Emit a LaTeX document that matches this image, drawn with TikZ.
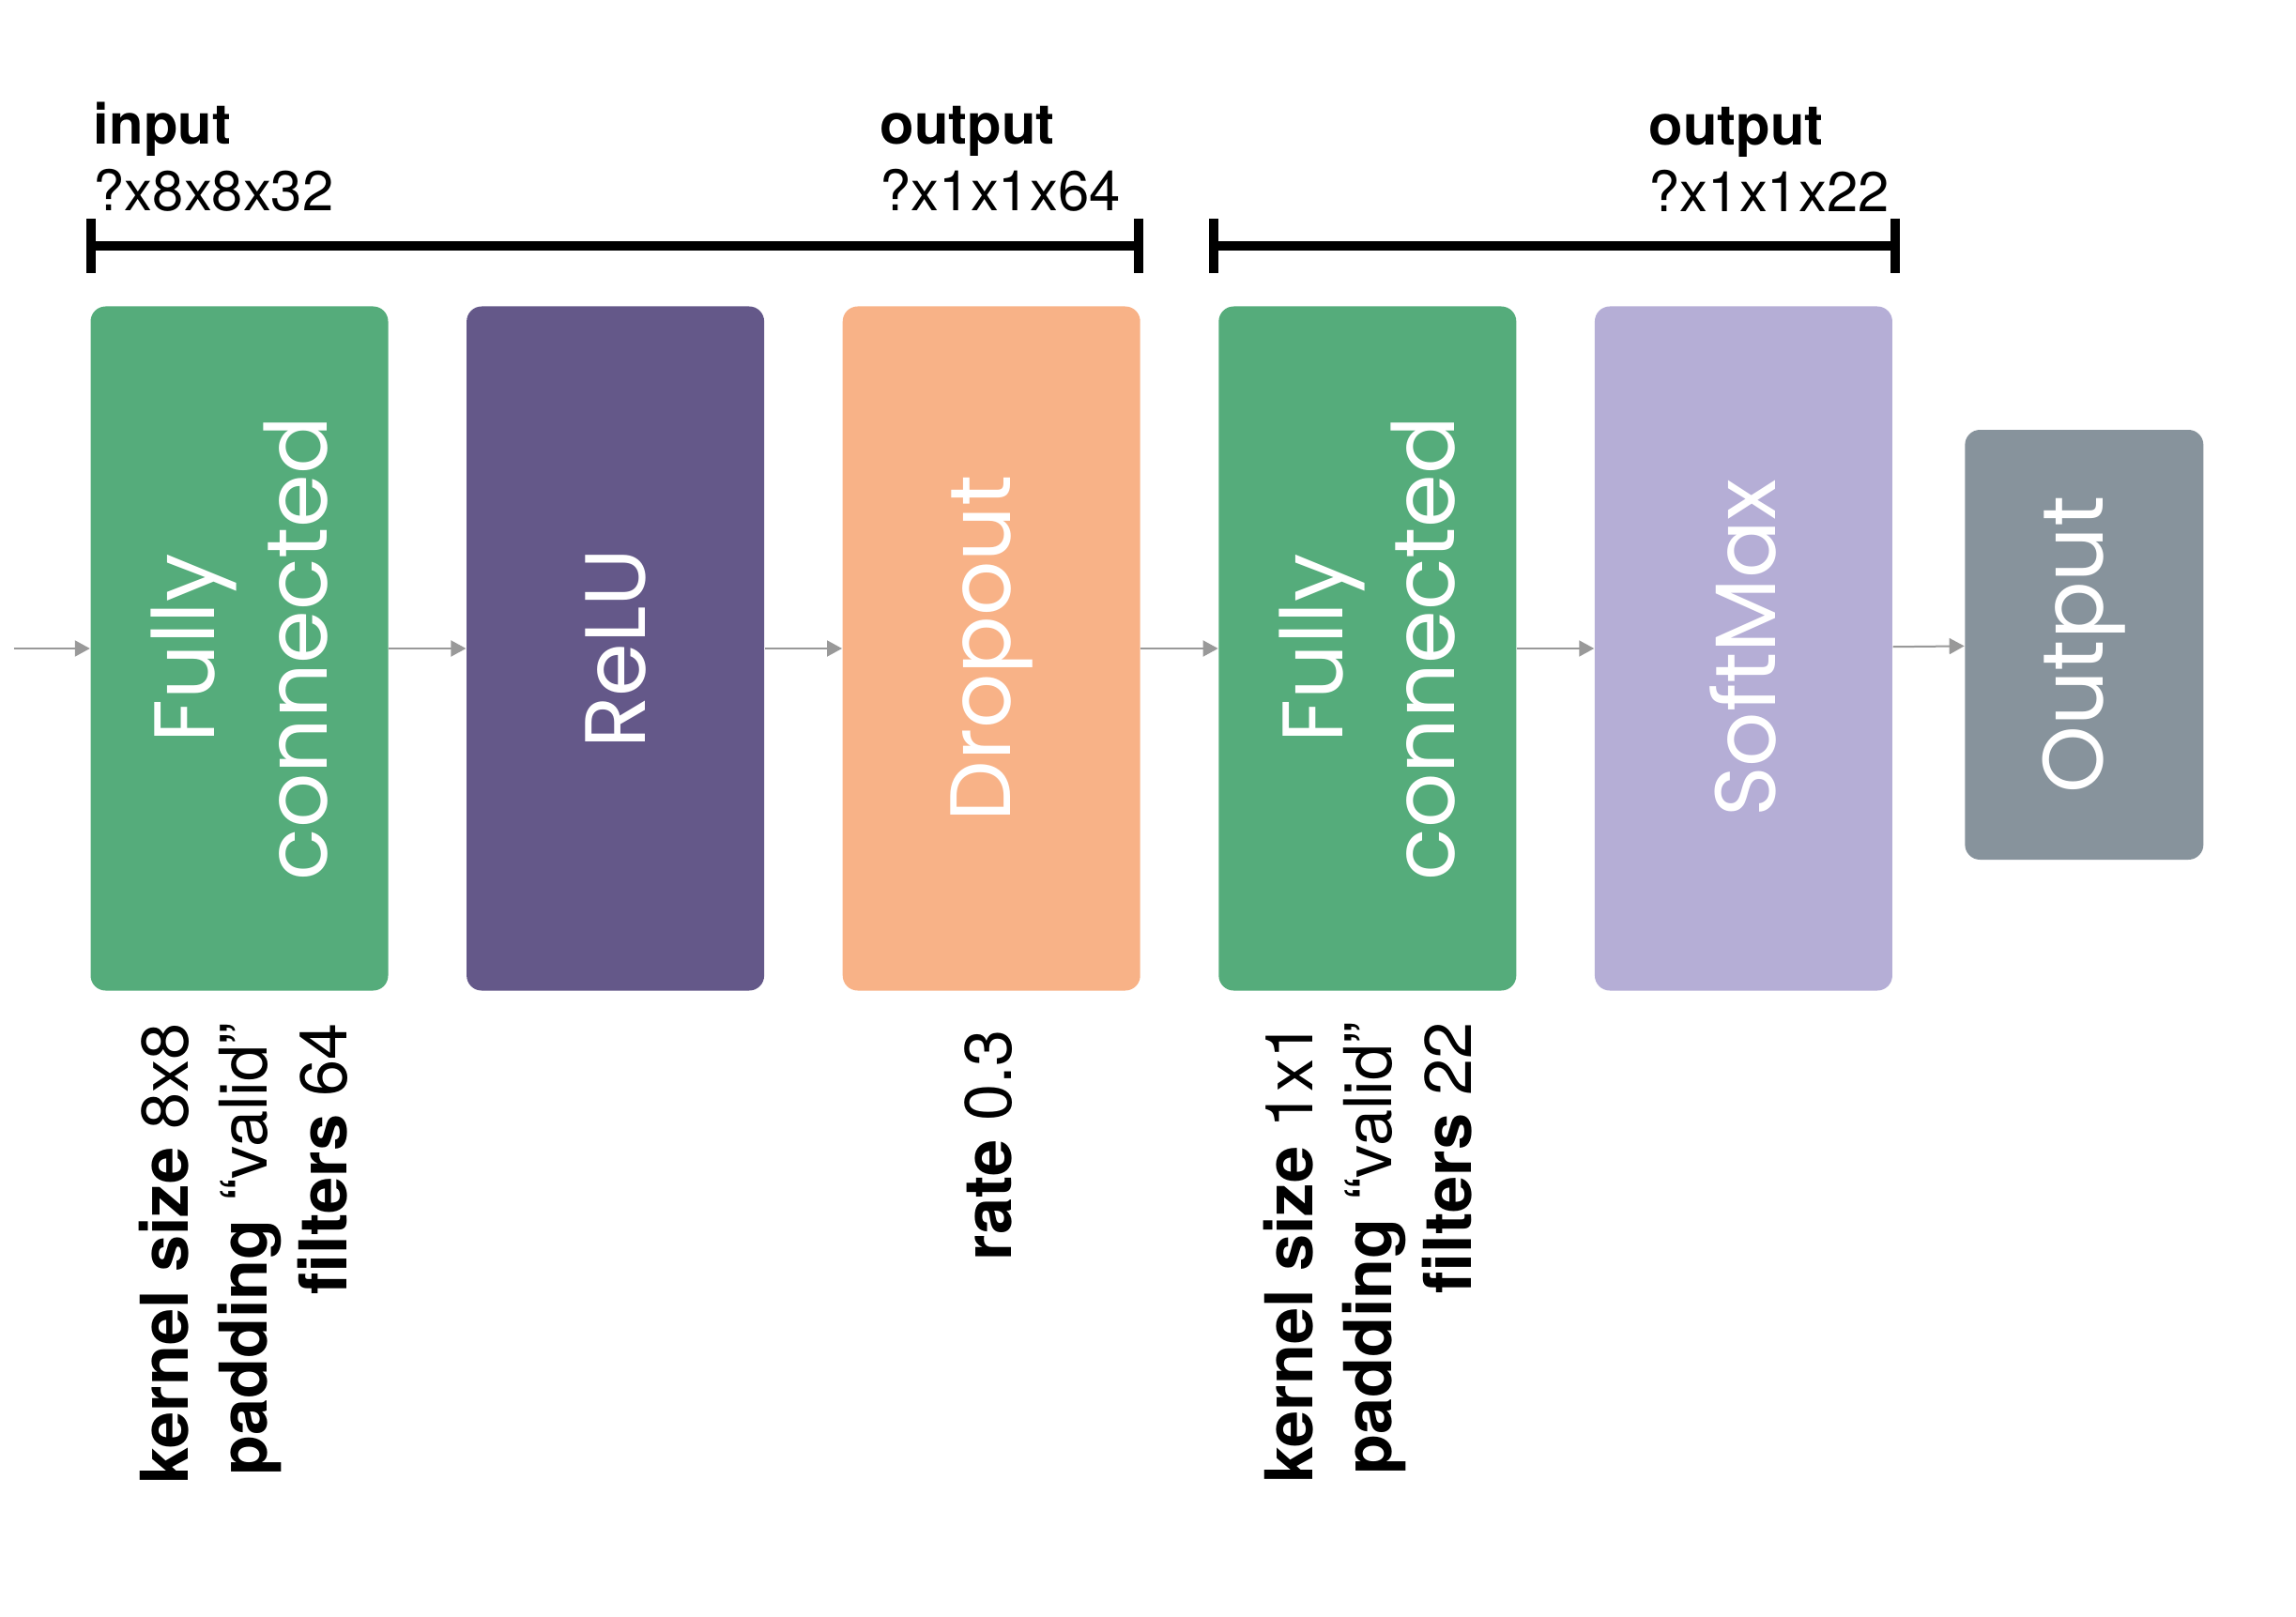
\documentclass[tikz,border=0pt]{standalone}
\usepackage{fontspec}
\setmainfont{TeX Gyre Heros}
\newfontfamily\layerfont{Poppins}
\usetikzlibrary{positioning, arrows.meta}

\definecolor{fcgreen}{HTML}{55AC7B}
\definecolor{relupurple}{HTML}{645889}
\definecolor{dropoutorange}{HTML}{F8B287}
\definecolor{softlavender}{HTML}{B5AED6}
\definecolor{outgray}{HTML}{87939C}
\definecolor{flowgray}{HTML}{999999}

\begin{document}
\begin{tikzpicture}[
    layer/.style={rounded corners=0.16cm, minimum width=3.17cm, minimum height=7.29cm, inner sep=0pt},
    layertext/.style={rotate=90, inner sep=0pt, align=center, text=white,
                      font=\layerfont\fontsize{26}{34}\selectfont},
    flow/.style={draw=flowgray, line width=0.02cm, -{Triangle[length=0.16cm, width=0.17cm]}},
    bracket/.style={line width=0.1cm, {Bar[width=0.58cm]}-{Bar[width=0.58cm]}},
    dimlabel/.style={anchor=south west, inner sep=0pt, align=left,
                     font=\fontsize{17}{20.2}\selectfont},
    note/.style={rotate=90, anchor=east, inner sep=0pt, align=right,
                 font=\fontsize{20}{24}\selectfont}
]
\useasboundingbox (0,0) rectangle (24.46,17.22);

%---------------- Layers ----------------
\node[layer, fill=fcgreen] (fc1) at (2.55,10.31) {};
\node[layer, fill=relupurple, right=0.822cm of fc1] (relu) {};
\node[layer, fill=dropoutorange, right=0.822cm of relu] (drop) {};
\node[layer, fill=fcgreen, right=0.822cm of drop] (fc2) {};
\node[layer, fill=softlavender, right=0.822cm of fc2] (soft) {};
\node[layer, fill=outgray, minimum width=2.54cm, minimum height=4.58cm,
      right=0.76cm of soft, yshift=0.04cm] (out) {};

\foreach \name/\lab in {fc1/{Fully\\connected}, relu/ReLU, drop/Dropout,
                        fc2/{Fully\\connected}, soft/SoftMax, out/Output} {
    \node[layertext] (\name text) at (\name) {\lab};
}

%---------------- Flow ----------------
\coordinate[left=0.81cm of fc1] (src);
\draw[flow] (src) -- (fc1);
\foreach \a/\b in {fc1/relu, relu/drop, drop/fc2, fc2/soft, soft/out} {
    \draw[flow] (\a) -- (\b);
}

%---------------- Shapes ----------------
\coordinate (bar) at (0,14.60);
\draw[bracket] ([xshift=-0.04cm]fc1.west |- bar) -- ([xshift=0.03cm]drop.east |- bar);
\draw[bracket] ([xshift=-0.1cm]fc2.west |- bar) -- ([xshift=0.07cm]soft.east |- bar);
\node[dimlabel] (inshape) at (0.99,14.96) {\textbf{input}\\?x8x8x32};
\node[dimlabel] (midshape) at (9.37,14.96) {\textbf{output}\\?x1x1x64};
\node[dimlabel] (outshape) at (17.56,14.96) {\textbf{output}\\?x1x1x22};

%---------------- Parameters ----------------
\node[note] (fc1note) at ([xshift=0.04cm, yshift=-0.33cm]fc1.south) {\textbf{kernel size} 8x8\\\textbf{padding} “valid”\\\textbf{filters} 64};
\node[note] (dropnote) at ([xshift=-0.03cm, yshift=-0.4cm]drop.south) {\textbf{rate} 0.3};
\node[note] (fc2note) at ([yshift=-0.32cm]fc2.south) {\textbf{kernel size} 1x1\\\textbf{padding} “valid”\\\textbf{filters} 22};
\end{tikzpicture}
\end{document}
